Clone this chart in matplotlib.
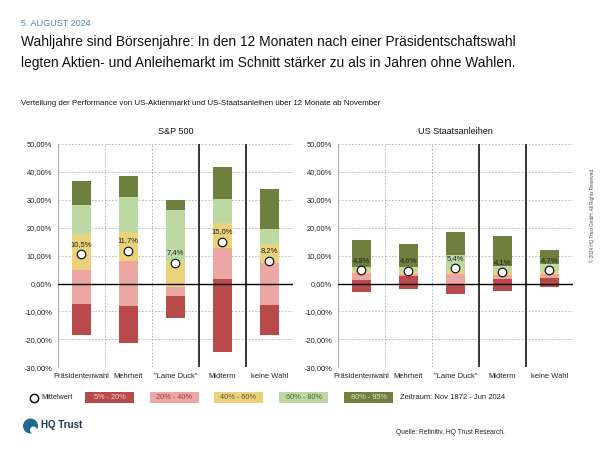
import matplotlib
matplotlib.use("Agg")
import matplotlib.pyplot as plt
from matplotlib.patches import Rectangle, Ellipse
from matplotlib.lines import Line2D
import numpy as np

plt.rcParams['font.family'] = ['Liberation Sans', 'DejaVu Sans']

categories = ["Präsidentenwahl", "Mehrheit", "\"Lame Duck\"", "Midterm", "keine Wahl"]
band_labels = ["5% - 20%", "20% - 40%", "40% - 60%", "60% - 80%", "80% - 95%"]

# Percentile boundaries: p5, p20, p40, p60, p80, p95
sp500_p5 = [-18.5, -21.4, -12.5, -24.6, -18.6]
sp500_p20 = [-7.4, -8.1, -4.5, 1.5, -7.8]
sp500_p40 = [4.8, 8.1, -1.2, 12.9, 7.2]
sp500_p60 = [17.6, 18.5, 8.0, 21.6, 14.0]
sp500_p80 = [28.3, 31.1, 26.5, 30.4, 19.6]
sp500_p95 = [36.7, 38.5, 30.0, 41.7, 33.9]
sp500_mean = [10.5, 11.7, 7.4, 15.0, 8.2]

bond_p5 = [-3.2, -1.9, -3.8, -2.8, -1.2]
bond_p20 = [1.4, 2.6, -0.6, 1.8, 2.0]
bond_p40 = [3.8, 3.3, 3.6, 3.2, 3.6]
bond_p60 = [5.0, 4.4, 5.0, 4.5, 4.5]
bond_p80 = [6.0, 6.0, 10.1, 6.3, 6.9]
bond_p95 = [15.6, 14.1, 18.3, 17.1, 11.9]
bond_mean = [4.8, 4.6, 5.4, 4.1, 4.7]

colors = ["#b84a4c", "#eca6a4", "#e9d27a", "#bcd9a3", "#6f7f3e"]
text_cols = ["#f3d6d6", "#9b3b3d", "#5a5a3a", "#4a6a3a", "#dfe5c8"]

W, H = 600, 450
fig = plt.figure(figsize=(6, 4.5), dpi=100)
fig.patch.set_facecolor("white")

def fx(px):
    return px / W

def fy(py):
    return 1 - py / H

ax_top, ax_bot = 144.0, 367.3
panels = [
    (57.7, "S&P 500", [sp500_p5, sp500_p20, sp500_p40, sp500_p60, sp500_p80, sp500_p95], sp500_mean),
    (337.7, "US Staatsanleihen", [bond_p5, bond_p20, bond_p40, bond_p60, bond_p80, bond_p95], bond_mean),
]
ax_w = 235.3

for left, title, bounds, means in panels:
    ax = fig.add_axes([fx(left), fy(ax_bot), ax_w / W, (ax_bot - ax_top) / H])
    x = np.arange(len(categories))
    for k in range(5):
        lo = np.array(bounds[k])
        hi = np.array(bounds[k + 1])
        ax.bar(x, hi - lo, bottom=lo, width=0.41, color=colors[k], zorder=3, linewidth=0)
    ax.set_xlim(-0.5, 4.5)
    ax.set_ylim(-30, 50)
    ax.set_yticks(np.arange(-30, 51, 10))
    ax.set_yticklabels([f"{v:.2f}%".replace(".", ",") for v in np.arange(-30, 51, 10)])
    ax.set_xticks(x)
    ax.set_xticklabels(categories)
    ax.tick_params(axis="both", length=0, labelsize=5.4, colors="#222222")
    ax.tick_params(axis="y", pad=4)
    ax.tick_params(axis="x", pad=4)
    for yv in np.arange(-20, 51, 10):
        ax.axhline(yv, color="#b0b0b0", lw=0.6, ls=(0, (2, 2)), zorder=1)
    for xv in [0.5, 1.5, 4.5]:
        ax.axvline(xv, color="#a8a8a8", lw=0.6, ls=(0, (2, 2)), zorder=1)
    for xv in [2.5, 3.5]:
        ax.axvline(xv, color="black", lw=1.1, zorder=4)
    ax.axhline(0, color="black", lw=1.0, zorder=4)
    for s in ["top", "right", "bottom"]:
        ax.spines[s].set_visible(False)
    ax.spines["left"].set_color("#9a9a9a")
    ax.spines["left"].set_linewidth(0.6)
    ax.scatter(x, means, s=38, facecolor="white", edgecolor="black", linewidth=0.8, zorder=6)
    for xi, m in zip(x, means):
        ax.text(xi, m + 3.6, f"{m:.1f}%".replace(".", ","), ha="center", va="center",
                fontsize=5.5, color="#222222", zorder=7)
    ax.set_title(title, fontsize=6.5, color="#111111", pad=7)

# Header texts
fig.text(fx(21), fy(23), "5. AUGUST 2024", fontsize=6.5, color="#5b84a8", va="center")
fig.text(fx(21), fy(42), "Wahljahre sind Börsenjahre: In den 12 Monaten nach einer Präsidentschaftswahl",
         fontsize=9.9, color="#111111", va="center")
fig.text(fx(21), fy(62.5), "legten Aktien- und Anleihemarkt im Schnitt stärker zu als in Jahren ohne Wahlen.",
         fontsize=9.9, color="#111111", va="center")
fig.text(fx(21), fy(104), "Verteilung der Performance von US-Aktienmarkt und US-Staatsanleihen über 12 Monate ab November",
         fontsize=5.7, color="#111111", va="center")

# Legend row
leg_y = 397.5
fig.add_artist(Line2D([fx(34)], [fy(leg_y)], marker="o", markersize=6.0, markerfacecolor="white",
                      markeredgecolor="black", markeredgewidth=1.0, linestyle="none",
                      transform=fig.transFigure))
fig.text(fx(41), fy(leg_y), "Mittelwert", fontsize=5.3, color="#222222", va="center", ha="left")
box_x = [85, 150, 214, 279, 344]
for bx, c, lab, tc in zip(box_x, colors, band_labels, text_cols):
    fig.patches.append(Rectangle((fx(bx), fy(403.3)), 49 / W, 11.6 / H, transform=fig.transFigure,
                                 facecolor=c, edgecolor="none"))
    fig.text(fx(bx + 24.5), fy(leg_y), lab, fontsize=5.3, color=tc, ha="center", va="center")
fig.text(fx(505), fy(leg_y), "Zeitraum: Nov 1872 - Jun 2024", fontsize=5.5, color="#222222",
         ha="right", va="center")

# Logo
fig.patches.append(Ellipse((fx(30.5), fy(426)), 15 / W, 15 / H, transform=fig.transFigure,
                           facecolor="#1d6b95", edgecolor="none"))
fig.patches.append(Ellipse((fx(33.5), fy(430)), 7 / W, 7 / H, transform=fig.transFigure,
                           facecolor="white", edgecolor="none"))
fig.text(fx(41), fy(424.5), "HQ Trust", fontsize=7, fontweight="bold", color="#1b3550", va="center")

fig.text(fx(505), fy(433), "Quelle: Refinitiv, HQ Trust Research.", fontsize=4.8, color="#222222",
         ha="right", va="center")
fig.text(fx(592), fy(215), "© 2024 HQ Trust GmbH. All Rights Reserved.", fontsize=3.3, color="#444444",
         rotation=90, ha="center", va="center")

fig.savefig("out.png", dpi=100, facecolor="white")
